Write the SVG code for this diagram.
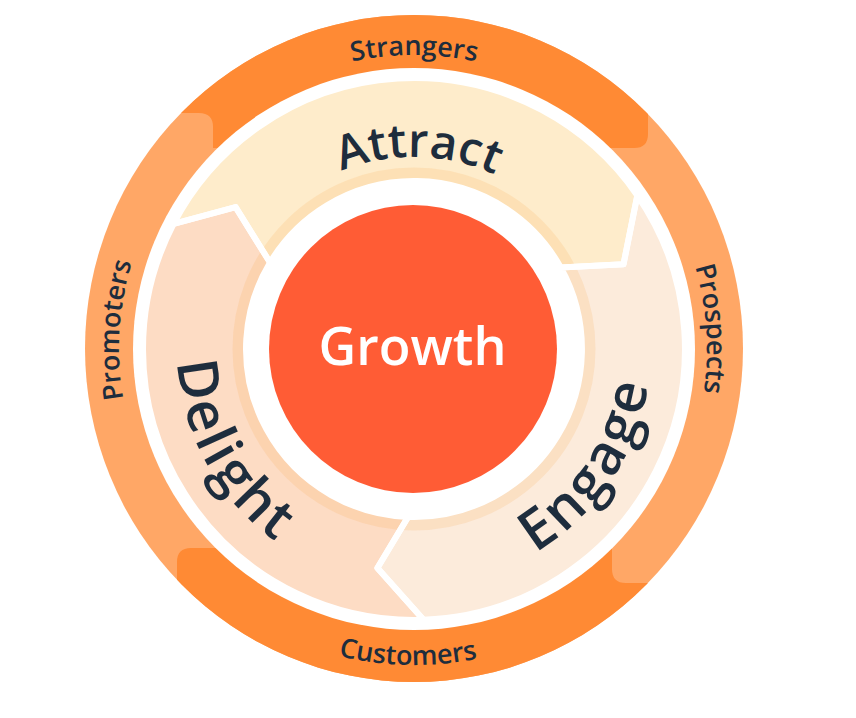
<svg xmlns="http://www.w3.org/2000/svg" width="856" height="718" viewBox="0 0 856 718">
<defs>
<style>
.lbl{font-family:"Open Sans","Noto Sans","Liberation Sans",sans-serif;font-weight:600;fill:#1E2D3D;}
.small{font-size:27px;}
.big{font-size:47px;}
.big2{font-size:56px;letter-spacing:3px;}
.sep{fill:none;stroke:#FFFFFF;stroke-width:6;stroke-linejoin:round;}
</style>
<clipPath id="ringClip"><ellipse cx="414" cy="348.5" rx="329" ry="333.5"/></clipPath>
<path id="segA" d="M 173.6 223.9 A 271 271 0 0 1 637.3 195.5 L 623.5 264.3 L 560.9 267.6 A 168 168 0 0 0 270.0 262.5 L 235.6 207.1 Z"/>
<path id="segE" d="M 637.3 195.5 A 271 271 0 0 1 423.5 619.8 L 377.4 568.0 L 408.1 516.9 A 168 168 0 0 0 560.9 267.6 L 623.5 264.3 Z"/>
<path id="segD" d="M 423.5 619.8 A 271 271 0 0 1 173.6 223.9 L 235.6 207.1 L 270.0 262.5 A 168 168 0 0 0 408.1 516.9 L 377.4 568.0 Z"/>
<path id="tpStrangers" d="M 120 349 A 294 294 0 0 1 708 349"/>
<path id="tpProspects" d="M 414 56 A 293 293 0 0 1 414 642"/>
<path id="tpPromoters" d="M 414 644 A 295 295 0 0 1 414 54"/>
<path id="tpCustomers" d="M 98 349 A 316 316 0 0 0 730 349"/>
<path id="tpAttract" d="M 222 349 A 192 192 0 0 1 606 349"/>
<path id="tpEngage" d="M 414 586 A 237 237 0 0 0 619.2 230.5"/>
<path id="tpDelight" d="M 208.8 230.5 A 237 237 0 0 0 414 586"/>
</defs>

<g id="outer-ring">
<ellipse cx="414" cy="348.5" rx="329" ry="333.5" fill="#FFA766"/>
<g clip-path="url(#ringClip)" fill="#FF8A34">
<path d="M 0 0 H 648 V 134 Q 648 148 634 148 H 213 V 127 Q 213 113 199 113 H 0 Z"/>
<path d="M 177 718 V 562 Q 177 548 191 548 H 612 V 569 Q 612 583 626 583 H 856 V 718 Z"/>
</g>
<circle cx="414" cy="349" r="281" fill="#FFFFFF"/>
</g>

<g id="segments">
<use id="attract-seg" href="#segA" fill="#FEECCB"/>
<use id="engage-seg" href="#segE" fill="#FCEBDB"/>
<use id="delight-seg" href="#segD" fill="#FDDCC4"/>
<circle cx="414" cy="349" r="174.5" fill="none" stroke="#F5A33C" stroke-opacity="0.15" stroke-width="14"/>
<use href="#segA" class="sep"/>
<use href="#segE" class="sep"/>
<use href="#segD" class="sep"/>
</g>

<g id="growth">
<circle cx="413" cy="349" r="168" fill="#FFFFFF"/>
<circle cx="413" cy="349" r="144" fill="#FF5C35"/>
<text x="412.5" y="365" text-anchor="middle" font-family="Open Sans, Noto Sans, Liberation Sans, sans-serif" font-weight="600" font-size="52" fill="#FFFFFF">Growth</text>
</g>

<g id="stage-labels">
<text id="attract" class="lbl big"><textPath href="#tpAttract" startOffset="306" text-anchor="middle">Attract</textPath></text>
<text id="engage" class="lbl big2"><textPath href="#tpEngage" startOffset="233" text-anchor="middle">Engage</textPath></text>
<text id="delight" class="lbl big2"><textPath href="#tpDelight" startOffset="244" text-anchor="middle">Delight</textPath></text>
</g>

<g id="ring-labels">
<text id="strangers" class="lbl small"><textPath href="#tpStrangers" startOffset="461.8" text-anchor="middle">Strangers</textPath></text>
<text id="prospects" class="lbl small"><textPath href="#tpProspects" startOffset="440" text-anchor="middle">Prospects</textPath></text>
<text id="promoters" class="lbl small"><textPath href="#tpPromoters" startOffset="482" text-anchor="middle">Promoters</textPath></text>
<text id="customers" class="lbl small"><textPath href="#tpCustomers" startOffset="490" text-anchor="middle">Customers</textPath></text>
</g>
</svg>
